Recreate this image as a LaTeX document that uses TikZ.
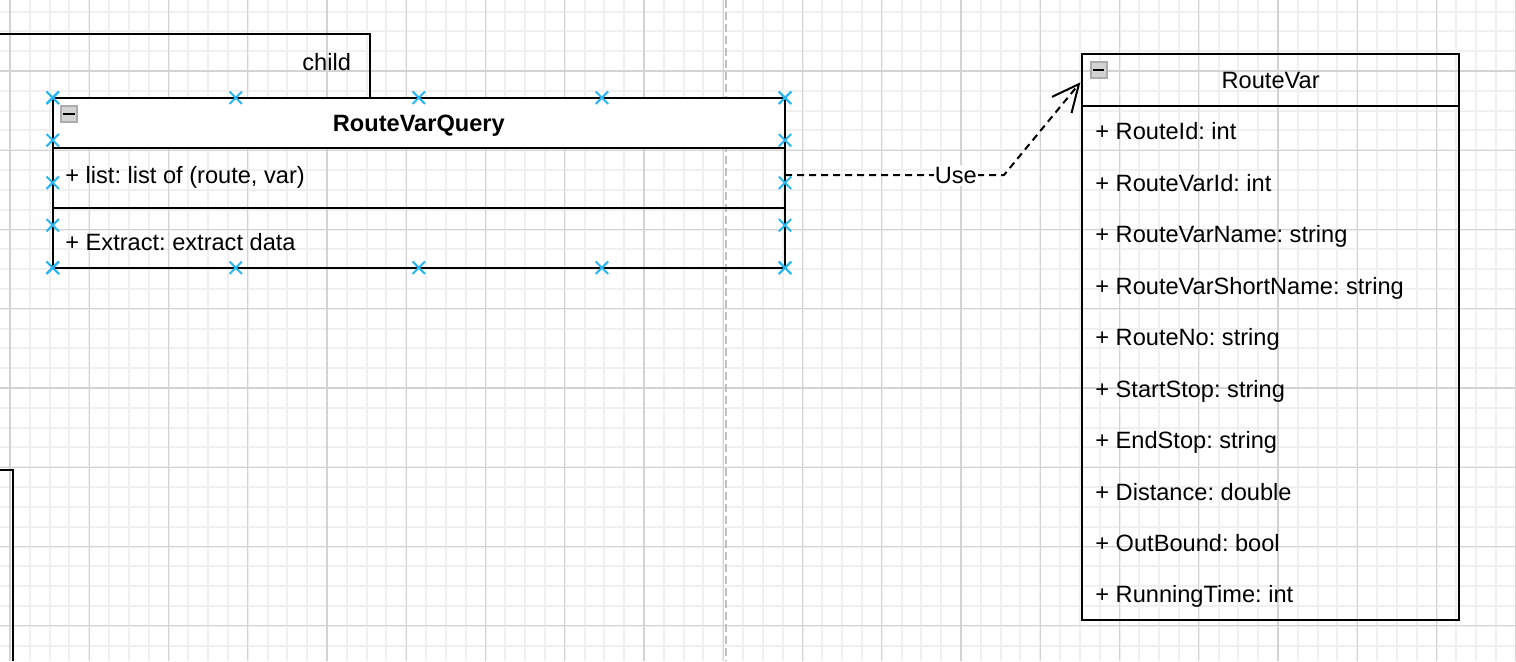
\documentclass[tikz,border=0pt]{standalone}
\usepackage{fontspec}
\setmainfont{Liberation Sans}
\usepackage{tikz}
\usetikzlibrary{shapes,arrows.meta,positioning,calc}
\usepackage{color}
\frenchspacing

\definecolor{gridminor}{HTML}{F0F0F0}
\definecolor{gridmajor}{HTML}{D3D3D3}
\definecolor{handle}{HTML}{29B6F2}
\definecolor{pagebreak}{HTML}{C0C0C0}

\newcommand{\umlfont}{\fontsize{11.8pt}{14pt}\selectfont}

\tikzset{
  minorline/.style={gridminor, line width=1pt},
  majorline/.style={gridmajor, line width=0.6pt},
  pageline/.style={pagebreak, line width=1pt, dash pattern=on 4pt off 2pt},
  outline/.style={line width=1pt},
  classhead/.style={draw, line width=1pt, inner sep=0pt, outer sep=0pt, text height=8.5pt, text depth=0pt},
  classbody/.style={draw, line width=1pt, inner sep=0pt, outer sep=0pt},
  member/.style={anchor=west, inner sep=0pt, text height=8.5pt, text depth=0pt},
  collapse/.style={draw=gray!65, fill=gray!35, line width=0.9pt, minimum size=8pt, inner sep=0pt},
  minusbar/.style={line width=1.3pt},
  handlemark/.style={cross out, draw=handle, line width=1pt, minimum size=5.2pt, inner sep=0pt},
  usedep/.style={line width=1pt, dash pattern=on 3.5pt off 2.5pt, shorten >=1.5pt,
    -{Straight Barb[length=13.5pt, width=12.7pt]}},
  uselabel/.style={fill=white, inner xsep=0.5pt, inner ysep=1pt, text height=8.5pt, text depth=0pt}
}

\begin{document}
\begin{tikzpicture}[x=0.5pt, y=-0.5pt, font=\umlfont]
      % canvas
      \useasboundingbox (0,0) rectangle (1516,661);
      \clip (0,0) rectangle (1516,661);
      \fill[white] (0,0) rectangle (1516,661);

      % grid
      \foreach \i in {0,...,76}
        \draw[minorline] ({10+19.8125*\i},0) -- ({10+19.8125*\i},661);
      \foreach \j in {0,...,32}
        \draw[minorline] (0,{11.6+19.8125*\j}) -- (1516,{11.6+19.8125*\j});
      \foreach \i in {0,...,19}
        \draw[majorline] ({10+79.25*\i},0) -- ({10+79.25*\i},661);
      \foreach \j in {0,...,7}
        \draw[majorline] (0,{71.05+79.25*\j}) -- (1516,{71.05+79.25*\j});
      \draw[pageline] (726,0) -- (726,661);

      % outer shapes
      \coordinate (childl) at (0,34.3);
      \coordinate (childr) at (370,34.3);
      \coordinate (lowl) at (0,470);
      \coordinate (lowc) at (13.3,470);
      \coordinate (lowb) at (13.3,661);
      \draw[outline] (lowl) -- (lowc) -- (lowb);
      \node[inner sep=0pt, text height=8.5pt, text depth=0pt] (childlbl) at (326.7,61.5) {child};

      % RouteVarQuery
      \node[classhead, fill=white, minimum width=366.15pt, minimum height=25.3pt, font=\umlfont\bfseries] (qhead) at (418.85,123) {RouteVarQuery};
      \draw[outline] (childl) -- (childr) -- (childr |- qhead.north);
      \node[classbody, minimum width=366.15pt, minimum height=59.7pt, below=0pt of qhead] (qbody) {};
      \draw[outline] ([yshift=-30pt]qbody.north west) -- ([yshift=-30pt]qbody.north east);
      \node[collapse] (qminus) at (69,114) {};
      \draw[minusbar] ([xshift=-2.8pt]qminus.center) -- ([xshift=2.8pt]qminus.center);
      \node[member] (qlist) at (65,175) {+ list: list of (route, var)};
      \node[member] (qextract) at (65,241.7) {+ Extract: extract data};

      % RouteVar
      \node[classhead, minimum width=188.35pt, minimum height=25.7pt] (vhead) at (1270.65,80) {RouteVar};
      \node[classbody, minimum width=188.35pt, minimum height=257.3pt, below=0pt of vhead] (vbody) {};
      \node[collapse] (vminus) at (1098.7,70) {};
      \draw[minusbar] ([xshift=-2.8pt]vminus.center) -- ([xshift=2.8pt]vminus.center);
      \foreach \txt [count=\i] in {RouteId: int,RouteVarId: int,RouteVarName: string,RouteVarShortName: string,RouteNo: string,StartStop: string,EndStop: string,Distance: double,OutBound: bool,RunningTime: int}
        \node[member] (vm\i) at (1095,{131.4+51.45*(\i-1)}) {+ \txt};

      % dependency
      \coordinate (bend) at (1004,175);
      \draw[usedep] (qbody.east |- qlist.west) -- node[uselabel, pos=0.78] (uselbl) {Use} (bend) -- (vhead.west);

      % handles
      \foreach \f [count=\i] in {0,0.25,0.5,0.75,1} {
        \node[handlemark] (ht\i) at ($(qhead.north west)!\f!(qhead.north east)$) {};
        \node[handlemark] (hb\i) at ($(qbody.south west)!\f!(qbody.south east)$) {};
        \node[handlemark] (hl\i) at ($(qhead.north west)!\f!(qbody.south west)$) {};
        \node[handlemark] (hr\i) at ($(qhead.north east)!\f!(qbody.south east)$) {};
      }
\end{tikzpicture}
\end{document}
